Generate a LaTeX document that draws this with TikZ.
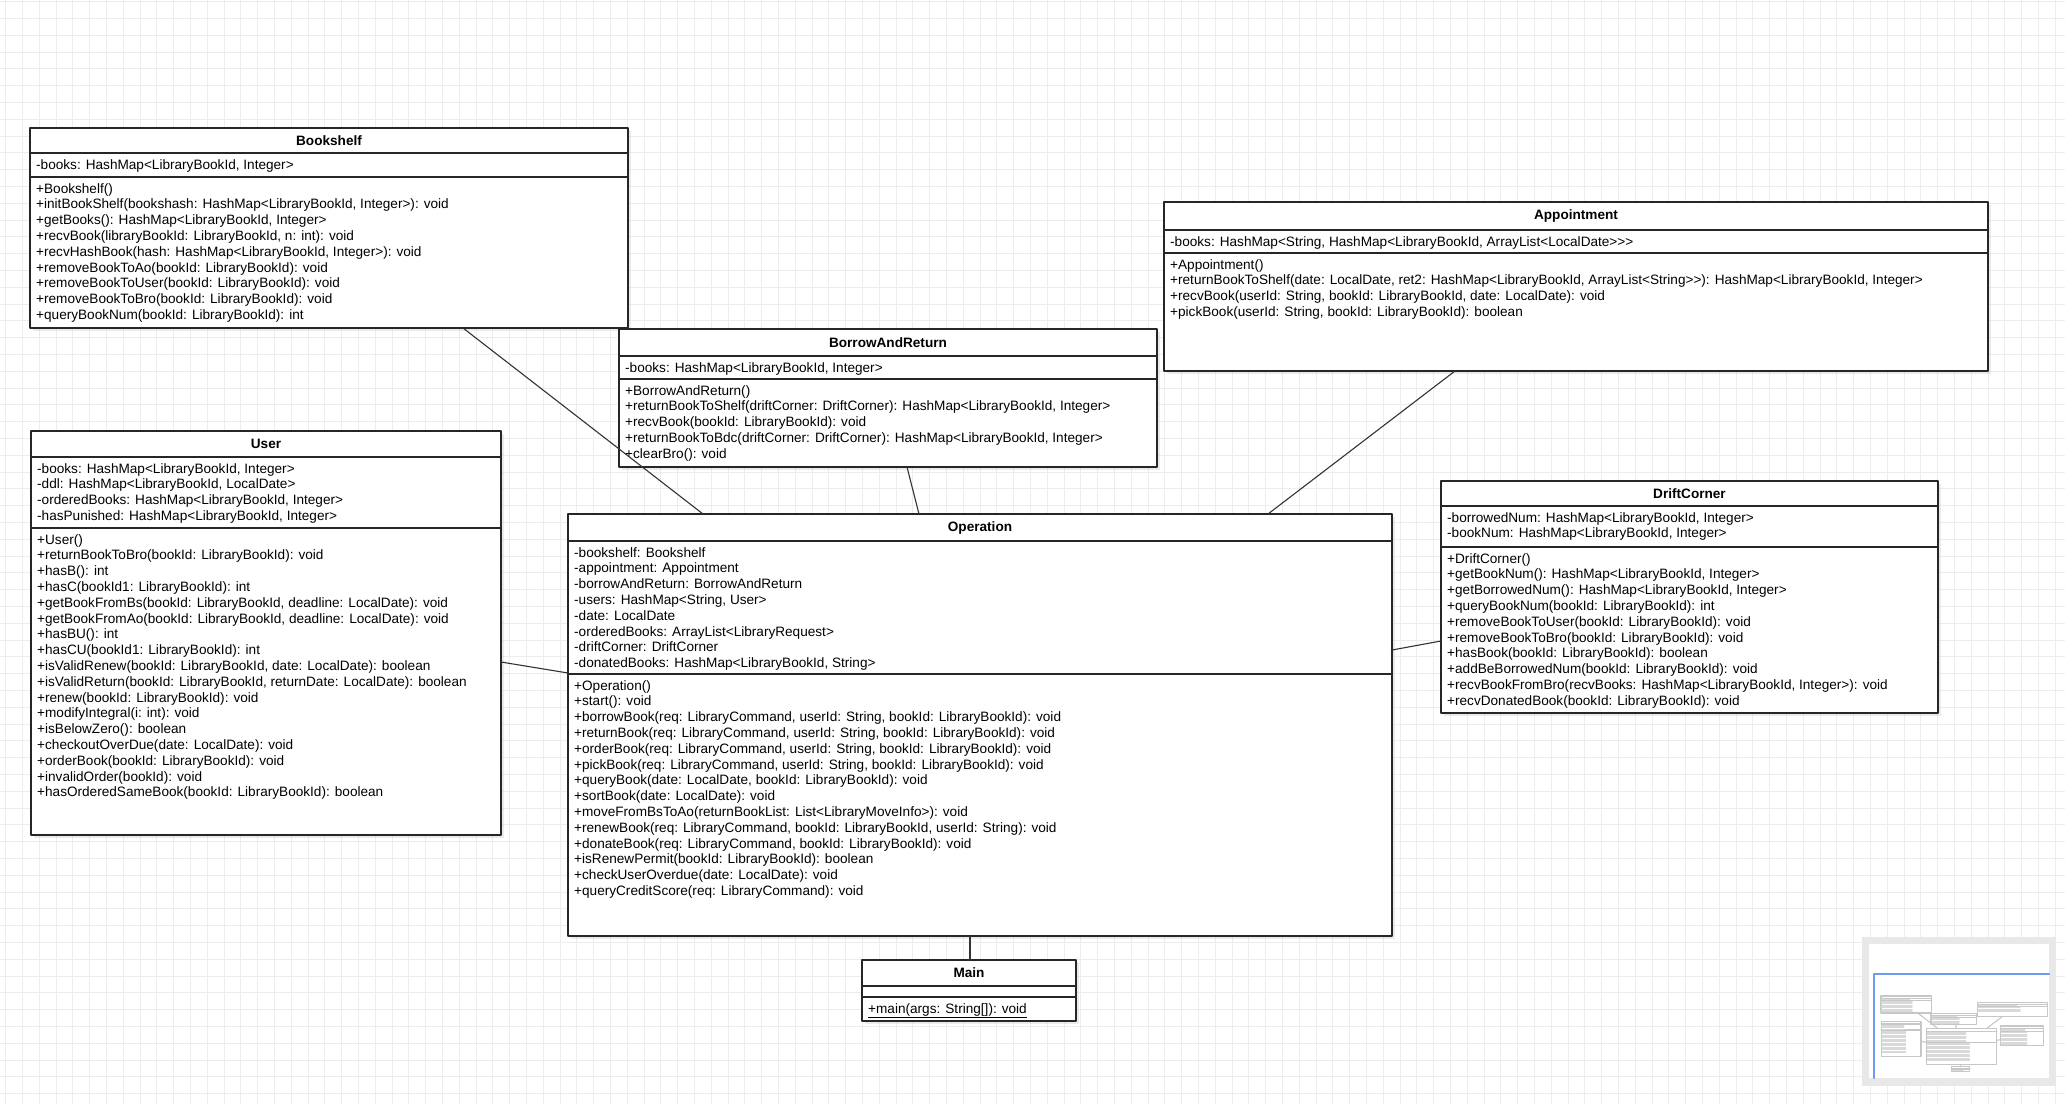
\documentclass[tikz,border=0pt]{standalone}
\usepackage{fontspec}
\setmainfont{Liberation Sans}
\usepackage{tikz}
\usetikzlibrary{calc,shadows}

\tikzset{
  gridline/.style={line width=0.9pt, color=black!7},
  classbox/.style={draw=black!85, line width=1.1pt, fill=white, inner sep=0pt, outer sep=0pt, anchor=north west,
    drop shadow={shadow xshift=3pt, shadow yshift=-3pt, fill=black!30, opacity=0.25}},
  classline/.style={line width=1.1pt, color=black!85},
  classtitle/.style={font=\bfseries\fontsize{13.6}{15.8}\selectfont, inner sep=0pt},
  classtext/.style={font=\fontsize{13.6}{15.8}\selectfont, inner sep=0pt, anchor=base west},
  relation/.style={line width=1.1pt, color=black!80},
  minibox/.style={draw=black!22, line width=1.1pt},
  minirow/.style={draw=black!15, line width=0.9pt},
}

% keeps >> from turning into a guillemet
\newcommand{\gt}{>\kern0pt}

% #1 name, #2 corner, #3 width, #4 height, #5 header, #6 attribute part, #7 title, #8 attributes, #9 methods
\newcommand{\umlclass}[9]{%
  \node[classbox, minimum width=#3pt, minimum height=#4pt] (#1) at #2 {};
  \draw[classline] ($(#1.north west)+(0,#5)$) -- ($(#1.north east)+(0,#5)$);
  \draw[classline] ($(#1.north west)+(0,#5+#6)$) -- ($(#1.north east)+(0,#5+#6)$);
  \node[classtitle] (#1-title) at ($(#1.north)+(0,#5/2)$) {#7};
  \foreach \row [count=\k] in {#8}
    \node[classtext] (#1-a\k) at ($(#1.north west)+(6,#5+16+15.8*\k-15.8)$) {\row};
  \foreach \row [count=\k] in {#9}
    \node[classtext] (#1-m\k) at ($(#1.north west)+(6,#5+#6+16+15.8*\k-15.8)$) {\row};
}

\begin{document}
\begin{tikzpicture}[x=1pt,y=-1pt,line cap=round,line join=round]
  \useasboundingbox (0,0) rectangle (2065,1104);
  \fill[white] (0,0) rectangle (2065,1104);
  % grid
  \foreach \i in {0,...,123} \draw[gridline] (5.7+16.8*\i,0) -- (5.7+16.8*\i,1104);
  \foreach \j in {0,...,66} \draw[gridline] (0,1.7+16.8*\j) -- (2065,1.7+16.8*\j);

  % classes
  \umlclass{bkshelf}{(30,128)}{598}{200}{25}{24}{Bookshelf}
    {{-books: HashMap<LibraryBookId, Integer>}}
    {{+Bookshelf()},
     {+initBookShelf(bookshash: HashMap<LibraryBookId, Integer>): void},
     {+getBooks(): HashMap<LibraryBookId, Integer>},
     {+recvBook(libraryBookId: LibraryBookId, n: int): void},
     {+recvHashBook(hash: HashMap<LibraryBookId, Integer>): void},
     {+removeBookToAo(bookId: LibraryBookId): void},
     {+removeBookToUser(bookId: LibraryBookId): void},
     {+removeBookToBro(bookId: LibraryBookId): void},
     {+queryBookNum(bookId: LibraryBookId): int}}

  \umlclass{borret}{(619,329)}{538}{138}{27}{23}{BorrowAndReturn}
    {{-books: HashMap<LibraryBookId, Integer>}}
    {{+BorrowAndReturn()},
     {+returnBookToShelf(driftCorner: DriftCorner): HashMap<LibraryBookId, Integer>},
     {+recvBook(bookId: LibraryBookId): void},
     {+returnBookToBdc(driftCorner: DriftCorner): HashMap<LibraryBookId, Integer>},
     {+clearBro(): void}}

  \umlclass{appoint}{(1164,202)}{824}{169}{28}{23}{Appointment}
    {{-books: HashMap<String, HashMap<LibraryBookId, ArrayList<LocalDate\gt\gt\gt}}
    {{+Appointment()},
     {+returnBookToShelf(date: LocalDate, ret2: HashMap<LibraryBookId, ArrayList<String\gt\gt): HashMap<LibraryBookId, Integer>},
     {+recvBook(userId: String, bookId: LibraryBookId, date: LocalDate): void},
     {+pickBook(userId: String, bookId: LibraryBookId): boolean}}

  \umlclass{user}{(31,431)}{470}{404}{26}{71}{User}
    {{-books: HashMap<LibraryBookId, Integer>},
     {-ddl: HashMap<LibraryBookId, LocalDate>},
     {-orderedBooks: HashMap<LibraryBookId, Integer>},
     {-hasPunished: HashMap<LibraryBookId, Integer>}}
    {{+User()},
     {+returnBookToBro(bookId: LibraryBookId): void},
     {+hasB(): int},
     {+hasC(bookId1: LibraryBookId): int},
     {+getBookFromBs(bookId: LibraryBookId, deadline: LocalDate): void},
     {+getBookFromAo(bookId: LibraryBookId, deadline: LocalDate): void},
     {+hasBU(): int},
     {+hasCU(bookId1: LibraryBookId): int},
     {+isValidRenew(bookId: LibraryBookId, date: LocalDate): boolean},
     {+isValidReturn(bookId: LibraryBookId, returnDate: LocalDate): boolean},
     {+renew(bookId: LibraryBookId): void},
     {+modifyIntegral(i: int): void},
     {+isBelowZero(): boolean},
     {+checkoutOverDue(date: LocalDate): void},
     {+orderBook(bookId: LibraryBookId): void},
     {+invalidOrder(bookId): void},
     {+hasOrderedSameBook(bookId: LibraryBookId): boolean}}

  \umlclass{oper}{(568,514)}{824}{422}{27}{133}{Operation}
    {{-bookshelf: Bookshelf},
     {-appointment: Appointment},
     {-borrowAndReturn: BorrowAndReturn},
     {-users: HashMap<String, User>},
     {-date: LocalDate},
     {-orderedBooks: ArrayList<LibraryRequest>},
     {-driftCorner: DriftCorner},
     {-donatedBooks: HashMap<LibraryBookId, String>}}
    {{+Operation()},
     {+start(): void},
     {+borrowBook(req: LibraryCommand, userId: String, bookId: LibraryBookId): void},
     {+returnBook(req: LibraryCommand, userId: String, bookId: LibraryBookId): void},
     {+orderBook(req: LibraryCommand, userId: String, bookId: LibraryBookId): void},
     {+pickBook(req: LibraryCommand, userId: String, bookId: LibraryBookId): void},
     {+queryBook(date: LocalDate, bookId: LibraryBookId): void},
     {+sortBook(date: LocalDate): void},
     {+moveFromBsToAo(returnBookList: List<LibraryMoveInfo>): void},
     {+renewBook(req: LibraryCommand, bookId: LibraryBookId, userId: String): void},
     {+donateBook(req: LibraryCommand, bookId: LibraryBookId): void},
     {+isRenewPermit(bookId: LibraryBookId): boolean},
     {+checkUserOverdue(date: LocalDate): void},
     {+queryCreditScore(req: LibraryCommand): void}}

  \umlclass{drift}{(1441,481)}{497}{232}{25}{41}{DriftCorner}
    {{-borrowedNum: HashMap<LibraryBookId, Integer>},
     {-bookNum: HashMap<LibraryBookId, Integer>}}
    {{+DriftCorner()},
     {+getBookNum(): HashMap<LibraryBookId, Integer>},
     {+getBorrowedNum(): HashMap<LibraryBookId, Integer>},
     {+queryBookNum(bookId: LibraryBookId): int},
     {+removeBookToUser(bookId: LibraryBookId): void},
     {+removeBookToBro(bookId: LibraryBookId): void},
     {+hasBook(bookId: LibraryBookId): boolean},
     {+addBeBorrowedNum(bookId: LibraryBookId): void},
     {+recvBookFromBro(recvBooks: HashMap<LibraryBookId, Integer>): void},
     {+recvDonatedBook(bookId: LibraryBookId): void}}

  \umlclass{mainc}{(862,960)}{214}{61}{26}{11}{Main}
    {}
    {{\underline{+main(args: String[]): void}}}

  % associations
  \draw[relation] ([xshift=433pt]bkshelf.south west) -- ([xshift=135pt]oper.north west);
  \draw[relation] ([xshift=288pt]borret.south west) -- ([xshift=351pt]oper.north west);
  \draw[relation] ([xshift=291pt]appoint.south west) -- ([xshift=700pt]oper.north west);
  \draw[relation] ([yshift=-231pt]user.north east) -- ([yshift=-159pt]oper.north west);
  \draw[relation] ([yshift=-160pt]drift.north west) -- ([yshift=-136pt]oper.north east);
  \draw[relation] ([xshift=402pt]oper.south west) -- ([xshift=108pt]mainc.north west);

  % outline view
  \fill[black!9] (1862,937) rectangle (2056,1086);
  \fill[white] (1869,944) rectangle (2049,1078);
  \begin{scope}[shift={(1878.4,985.1)}, scale=0.085]
    \foreach \x/\y/\w/\h/\ha/\hb/\na/\nm in {30/128/598/200/25/24/1/9, 619/329/538/138/27/23/1/5,
        1164/202/824/169/28/23/1/4, 31/431/470/404/26/71/4/17, 568/514/824/422/27/133/8/14,
        1441/481/497/232/25/41/2/10, 862/960/214/61/26/11/0/1} {
      \draw[minibox] (\x,\y) rectangle ++(\w,\h);
      \draw[minibox] (\x,\y+\ha) -- ++(\w,0);
      \draw[minibox] (\x,\y+\ha+\hb) -- ++(\w,0);
      \ifnum\na>0
        \foreach \r in {1,...,\na} \draw[minirow] (\x+8,\y+\ha+12+15.8*\r-15.8) -- ++(0.55*\w,0);
      \fi
      \foreach \r in {1,...,\nm} \draw[minirow] (\x+8,\y+\ha+\hb+12+15.8*\r-15.8) -- ++(0.6*\w,0);
    }
    \draw[minibox] (463,328) -- (703,514);
    \draw[minibox] (907,467) -- (919,514);
    \draw[minibox] (1455,371) -- (1268,514);
    \draw[minibox] (501,662) -- (568,673);
    \draw[minibox] (1441,641) -- (1392,650);
    \draw[minibox] (970,936) -- (970,960);
  \end{scope}
  \draw[line width=2pt, color={rgb,255:red,110;green,155;blue,240}] (1874,1078) -- (1874,974) -- (2049,974);
\end{tikzpicture}
\end{document}
